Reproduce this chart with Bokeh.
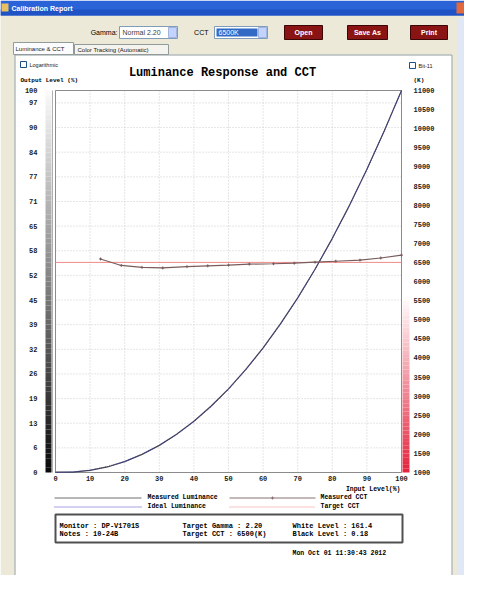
from bokeh.plotting import figure
from bokeh.models import Range1d
from bokeh.core.properties import value
from bokeh.embed import file_html
from bokeh.resources import INLINE

# ---------------- data ----------------
input_levels = [0, 5, 10, 15, 20, 25, 30, 35, 40, 45, 50, 55, 60, 65, 70, 75, 80, 85, 90, 95, 100]
ideal_luminance = [0, 0.14, 0.63, 1.54, 2.90, 4.74, 7.07, 9.93, 13.32, 17.26, 21.76, 26.84,
                   32.50, 38.76, 45.63, 53.11, 61.21, 69.94, 79.31, 89.33, 100]
measured_luminance = [0.11, 0.12, 0.55, 1.45, 2.85, 4.75, 7.1, 10.0, 13.4, 17.4, 21.9, 27.0,
                      32.6, 38.9, 45.7, 53.2, 61.3, 70.0, 79.4, 89.4, 100]
cct_levels = [13, 19, 25, 31, 38, 44, 50, 56, 63, 69, 75, 81, 88, 94, 100]
measured_cct = [6590, 6420, 6370, 6355, 6390, 6410, 6430, 6455, 6465, 6480, 6505, 6530, 6560, 6615, 6690]
target_cct = 6500

output_ticks = [0, 6.45, 12.9, 19.35, 25.8, 32.25, 38.7, 45.15, 51.6, 58.05, 64.5, 70.95,
                77.4, 83.85, 90.3, 96.75, 100]
output_tick_labels = ["0", "6", "13", "19", "26", "32", "39", "45", "52", "58", "65", "71",
                      "77", "84", "90", "97", "100"]
input_ticks = [0, 10, 20, 30, 40, 50, 60, 70, 80, 90, 100]
input_tick_labels = ["0", "10", "20", "30", "40", "50", "60", "70", "80", "90", "100"]
cct_ticks = [1000, 1500, 2000, 2500, 3000, 3500, 4000, 4500, 5000, 5500, 6000, 6500,
             7000, 7500, 8000, 8500, 9000, 9500, 10000, 10500, 11000]
cct_tick_labels = [str(c) for c in cct_ticks]

legend_labels = ["Measured Luminance", "Measured CCT", "Ideal Luminance", "Target CCT"]
info_left = ["Monitor : DP-V1701S", "Notes   : 10-24B"]
info_mid = ["Target Gamma : 2.20", "Target CCT   : 6500(K)"]
info_right = ["White Level : 161.4", "Black Level : 0.18"]
report_date = "Mon Oct 01 11:30:43 2012"

# ---------------- layout constants (canvas pixels) ----------------
W, H = 464, 575
PL, PR, PT, PB = 55, 401, 90, 472          # plot area in canvas pixels
MONO = "Liberation Mono"
SANS = "Liberation Sans"

p = figure(width=W, height=H, output_backend="svg", toolbar_location=None,
           x_range=Range1d(0, W), y_range=Range1d(H, 0),
           x_axis_location=None, y_axis_location=None,
           min_border=0, background_fill_color="white", border_fill_color="white",
           outline_line_color=None)
p.grid.visible = False

# data ranges mapped onto the plot area
xs = (PR - PL) / 100.0
ys = (PB - PT) / 100.0
cs = (PB - PT) / 10000.0
p.extra_x_ranges = {"dx": Range1d(-PL / xs, (W - PL) / xs)}
p.extra_y_ranges = {"dy": Range1d(-(H - PB) / ys, PB / ys),
                    "cct": Range1d(1000 - (H - PB) / cs, 1000 + PB / cs)}

def box(l, t, r, b, fill=None, line=None, lw=1, dash="solid"):
    p.quad(left=[l], right=[r], top=[t], bottom=[b], fill_color=fill,
           fill_alpha=1 if fill else 0, line_color=line, line_width=lw, line_dash=dash)

def txt(x, y, s, size="7px", font=SANS, bold=False, color="#000000", align="left",
        xr="default", yr="default"):
    if not isinstance(x, list):
        x, y, s = [x], [y], [s]
    p.text(x=x, y=y, text=s, text_font=value(font), text_font_size=size,
           text_font_style="bold" if bold else "normal", text_color=color,
           text_align=align, text_baseline="middle", x_range_name=xr, y_range_name=yr)

# ---------------- window chrome ----------------
box(0, 14, W, 54, fill="#ece9d8")
box(0, 14, 14, H, fill="#ece9d8")
box(452, 14, W, H, fill="#ece9d8")
box(457, 18, W, H, fill="#dfe8f4")
box(0, 0, W, 15, fill="#2a62d8")
box(0, 9, W, 15, fill="#1f52c4")
box(1, 3, 8, 11, fill="#e8c060")
txt(11, 7.5, "Calibration Report", size="7px", bold=True, color="#ffffff")
box(456, 2, W, 13, fill="#e2683e")

txt(117, 32, "Gamma:", size="7px", align="right")
box(119, 26, 177, 38, fill="#ffffff", line="#7f9db9")
txt(122, 32, "Normal 2.20", size="7px", color="#404040")
box(168, 27, 176, 37, fill="#c3d3fd", line="#a0b4e0")
txt(208, 32, "CCT", size="7px", align="right")
box(214, 26, 267, 38, fill="#ffffff", line="#7f9db9")
box(216, 28, 257, 36, fill="#316ac5")
txt(218, 32, "6500K", size="7px", color="#ffffff")
box(258, 27, 266, 37, fill="#c3d3fd", line="#a0b4e0")
for (l, r, s) in [(284, 322, "Open"), (347, 387, "Save As"), (410, 447, "Print")]:
    box(l, 25, r, 39, fill="#8a1414", line="#3c0606")
    txt((l + r) / 2, 32, s, size="7px", bold=True, color="#ffffff", align="center")

box(74, 44, 168, 54, fill="#f4f3ee", line="#919b9c")
txt(77, 49, "Color Tracking (Automatic)", size="6px", color="#202020")
box(13, 42, 73, 54, fill="#fcfcfe", line="#919b9c")
txt(15, 48, "Luminance & CCT", size="6px", color="#202020")
box(14.5, 54.5, 451.5, 576, fill=None, line="#919b9c")

box(20, 61, 26, 67, fill="#ffffff", line="#1c5180")
txt(29, 64, "Logarithmic", size="5.5px", color="#202020")
box(409, 62, 415, 68, fill="#ffffff", line="#1c5180")
txt(418, 65, "Bit-11", size="5.5px", color="#202020")

# ---------------- gradient bars beside the plot ----------------
g_bottom = [i * 1.25 for i in range(80)]
g_top = [i * 1.25 + 1.25 for i in range(80)]
g_cols = []
for i in range(80):
    v = int(10 + 240 * i / 79)
    g_cols.append("#%02x%02x%02x" % (v, v, v))
p.quad(left=[PL - 10] * 80, right=[PL - 4] * 80, bottom=g_bottom, top=g_top,
       fill_color=g_cols, line_color=None, y_range_name="dy")
p.segment(x0=[PL - 3], x1=[PL - 3], y0=[0], y1=[100], line_color="#b0b0b0", y_range_name="dy")

r_bottom, r_top, r_cols = [], [], []
for c in range(1000, 11000, 100):
    mid = c + 50
    if mid < 5600:
        t = (5600 - mid) / 4600
        col = (int(255 - t * 27), int(255 - t * 220), int(255 - t * 195))
    else:
        col = (255, 255, 255)
    r_bottom.append(c)
    r_top.append(c + 100)
    r_cols.append("#%02x%02x%02x" % col)
p.quad(left=[PR + 1] * len(r_cols), right=[PR + 8] * len(r_cols), bottom=r_bottom, top=r_top,
       fill_color=r_cols, line_color=None, y_range_name="cct")

# ---------------- grid, frame and tick labels ----------------
p.segment(x0=input_ticks, x1=input_ticks, y0=[0] * len(input_ticks), y1=[100] * len(input_ticks),
          line_color="#cccccc", line_dash="1 2", x_range_name="dx", y_range_name="dy")
p.segment(x0=[0] * len(output_ticks), x1=[100] * len(output_ticks), y0=output_ticks, y1=output_ticks,
          line_color="#cccccc", line_dash="1 2", x_range_name="dx", y_range_name="dy")
p.quad(left=[0], right=[100], bottom=[0], top=[100], fill_color=None, line_color="#8c8c8c",
       x_range_name="dx", y_range_name="dy")

txt([PL - 18] * len(output_ticks), output_ticks, output_tick_labels, size="7px", font=MONO,
    bold=True, color="#202020", align="right", yr="dy")
txt([PR + 12] * len(cct_ticks), cct_ticks, cct_tick_labels, size="7px", font=MONO,
    bold=True, color="#202020", align="left", yr="cct")
txt(input_ticks, [PB + 6] * len(input_ticks), input_tick_labels, size="7px", font=MONO,
    bold=True, color="#202020", align="center", xr="dx")

# ---------------- curves ----------------
p.segment(x0=[0], x1=[100], y0=[target_cct], y1=[target_cct], line_color="#f08a8a",
          line_width=1, x_range_name="dx", y_range_name="cct")
p.line(input_levels, measured_luminance, line_color="#45454f", line_width=1.2,
       x_range_name="dx", y_range_name="dy")
p.line(input_levels, ideal_luminance, line_color="#3c3ca8", line_width=1, line_dash="1 1",
       x_range_name="dx", y_range_name="dy")
p.line(cct_levels, measured_cct, line_color="#7a5c5c", line_width=1.2,
       x_range_name="dx", y_range_name="cct")
p.scatter(cct_levels, measured_cct, marker="cross", size=3, line_color="#7a5c5c",
          x_range_name="dx", y_range_name="cct")

# ---------------- titles ----------------
txt(222, 72, "Luminance Response and CCT", size="12px", font=MONO, bold=True, align="center")
txt(20, 80, "Output Level (%)", size="6px", font=MONO, bold=True)
txt(413, 80, "(K)", size="6px", font=MONO, bold=True)
txt(400, 489, "Input Level(%)", size="6.5px", font=MONO, bold=True, align="right")

# ---------------- legend ----------------
p.line([54, 141], [497.5, 497.5], line_color="#707070")
p.line([229, 315], [497.5, 497.5], line_color="#8a7070")
p.scatter([272], [497.5], marker="cross", size=3, line_color="#8a7070")
p.line([54, 141], [506.5, 506.5], line_color="#4848c0", line_dash="1 1")
p.line([229, 315], [506.5, 506.5], line_color="#f08a8a", line_dash="1 1")
txt([147, 320, 147, 320], [497, 497, 506, 506], legend_labels, size="6.5px", font=MONO, bold=True)

# ---------------- info box ----------------
box(55, 514, 402, 542, fill="#ffffff", line="#505050", lw=2)
txt([59, 59], [525, 533], info_left, size="7px", font=MONO, bold=True)
txt([182, 182], [525, 533], info_mid, size="7px", font=MONO, bold=True)
txt([292, 292], [525, 533], info_right, size="7px", font=MONO, bold=True)
txt(292, 553, report_date, size="6.5px", font=MONO, bold=True)

open("out.html", "w").write(file_html(p, INLINE))
